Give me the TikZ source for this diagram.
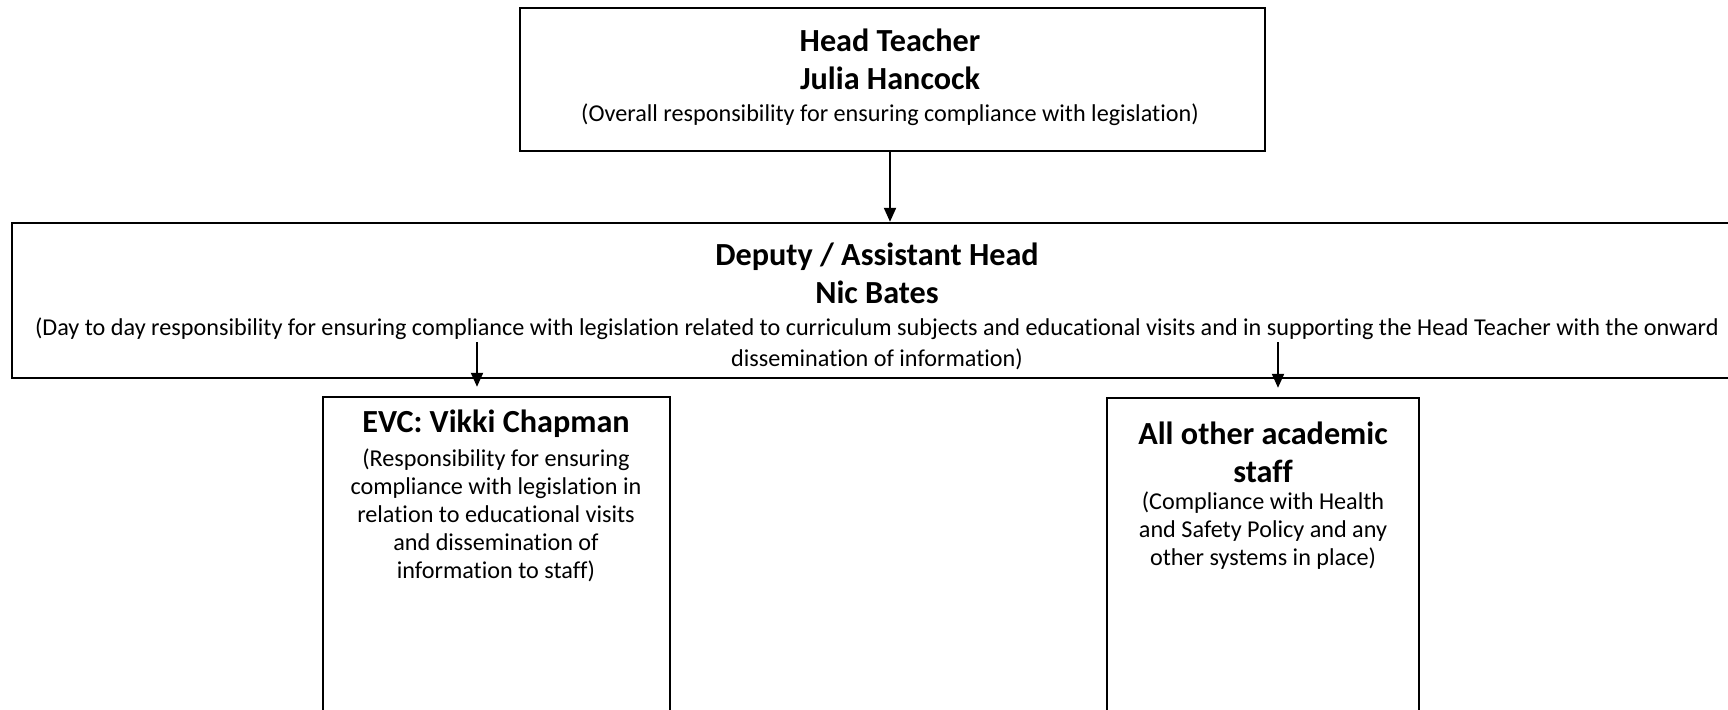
\documentclass[tikz,border=0pt]{standalone}
\usepackage{fontspec}
\setmainfont{Carlito}[Ligatures=NoCommon]
\usetikzlibrary{arrows.meta}
\tikzset{
  box/.style={draw, line width=1.2pt, inner sep=0pt, fill=none},
  ttl/.style={font=\bfseries\fontsize{16.1}{19}\selectfont, align=center, inner sep=0pt},
  bdy/.style={font=\fontsize{12.1}{14}\selectfont, align=center, inner sep=0pt},
  bdyw/.style={font=\fontsize{12.1}{15.5}\selectfont, align=center, inner sep=0pt},
  arr/.style={line width=1pt, -{Triangle[width=6pt,length=7pt]}}
}
\begin{document}
\begin{tikzpicture}[x=0.5pt,y=-0.5pt]
\useasboundingbox (0,0) rectangle (1728,709);
\clip (0,0) rectangle (1728,709);
% boxes
\node[box, minimum width=372.5pt, minimum height=71.5pt] (top) at (892.5,79.5) {};
\node[box, minimum width=865pt, minimum height=77.5pt] (mid) at (877,300.5) {};
\node[box, minimum width=173.5pt, minimum height=163pt] (evc) at (496.5,560) {};
\node[box, minimum width=156pt, minimum height=162pt] (all) at (1263,560) {};
% texts
\node[ttl] (toptitle) at (890,59) {Head Teacher\\Julia Hancock};
\node[bdy] (topbody) at (890,115) {(Overall responsibility for ensuring compliance with legislation)};
\node[ttl] (midtitle) at (877,273.5) {Deputy / Assistant Head\\Nic Bates};
\node[bdyw] (midbody) at (877,343.5) {(Day to day responsibility for ensuring compliance with legislation related to curriculum subjects and educational visits and in supporting the Head Teacher with the onward\\dissemination of information)};
\node[ttl] (evctitle) at (496,424) {EVC: Vikki Chapman};
\node[bdy] (evcbody) at (496,515) {(Responsibility for ensuring\\compliance with legislation in\\relation to educational visits\\and dissemination of\\information to staff)};
\node[ttl] (alltitle) at (1263,452) {All other academic\\staff};
\node[bdy] (allbody) at (1263,531) {(Compliance with Health\\and Safety Policy and any\\other systems in place)};
% connectors
\coordinate (a1) at (477,342);
\coordinate (a2) at (1278,342);
\draw[arr] ([xshift=-1.25pt]top.south) -- ([xshift=-1.25pt]top.south |- mid.north);
\draw[arr, shorten >=4.5pt] (a1) -- (a1 |- evc.north);
\draw[arr, shorten >=4.5pt] (a2) -- (a2 |- all.north);
\end{tikzpicture}
\end{document}
